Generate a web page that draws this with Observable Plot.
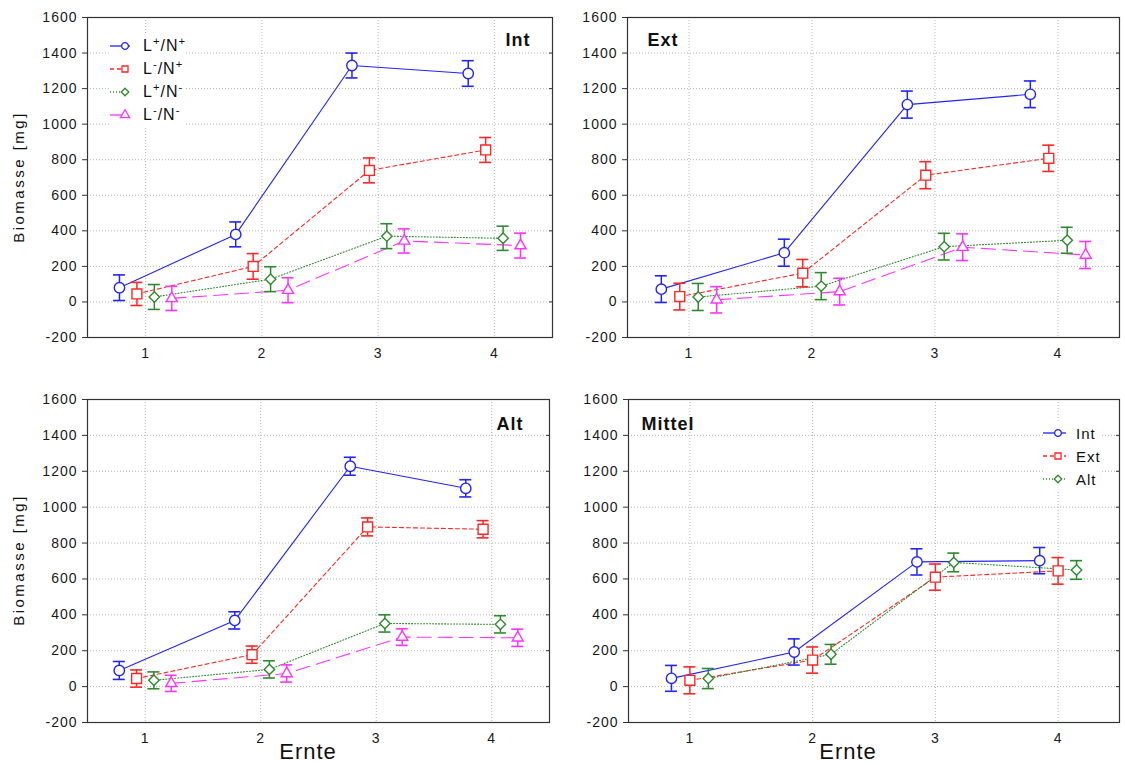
<!DOCTYPE html>
<html><head><meta charset="utf-8">
<script src="https://cdn.jsdelivr.net/npm/d3@7"></script>
<script src="https://cdn.jsdelivr.net/npm/@observablehq/plot@0.6"></script>
<style>
body{margin:0;background:#fff;font-family:"Liberation Sans",Arial,sans-serif;}
#wrap{position:relative;width:1125px;height:765px;overflow:hidden;background:#fff;}
.panel{position:absolute;}
.panel text{letter-spacing:1px;}
.ylab{position:absolute;transform:translate(-50%,-50%) rotate(-90deg);font-size:15px;letter-spacing:2.5px;white-space:nowrap;color:#111;}
.xlab{position:absolute;transform:translate(-50%,-50%);font-size:22px;letter-spacing:1px;color:#111;white-space:nowrap;}
.legend{position:absolute;background:#fff;color:#111;letter-spacing:1px;}
.legend .row{display:flex;align-items:center;height:23px;white-space:nowrap;}
.legend sup{font-size:70%;vertical-align:0.5em;line-height:0;}
</style></head><body><div id="wrap"></div>
<script>
// ---------- data ----------
const ernte = [1, 2, 3, 4];
const yTicks = [-200, 0, 200, 400, 600, 800, 1000, 1200, 1400, 1600];
const treatments = ["L+/N+", "L-/N+", "L+/N-", "L-/N-"];
const sites = ["Int", "Ext", "Alt"];

// Int
const int_LpNp = [80, 380, 1330, 1285];
const int_LpNp_err = [72, 70, 70, 72];
const int_LmNp = [45, 200, 740, 855];
const int_LmNp_err = [65, 72, 70, 70];
const int_LpNm = [28, 128, 370, 358];
const int_LpNm_err = [70, 70, 70, 68];
const int_LmNm = [20, 66, 343, 317];
const int_LmNm_err = [68, 70, 68, 70];
// Ext
const ext_LpNp = [72, 277, 1110, 1168];
const ext_LpNp_err = [75, 76, 76, 75];
const ext_LmNp = [30, 162, 713, 808];
const ext_LmNp_err = [75, 77, 76, 74];
const ext_LpNm = [28, 89, 311, 347];
const ext_LpNm_err = [76, 76, 75, 73];
const ext_LmNm = [12, 58, 308, 264];
const ext_LmNm_err = [74, 75, 75, 76];
// Alt
const alt_LpNp = [90, 369, 1228, 1105];
const alt_LpNp_err = [50, 48, 50, 48];
const alt_LmNp = [45, 178, 890, 877];
const alt_LmNp_err = [48, 48, 50, 48];
const alt_LpNm = [35, 96, 352, 347];
const alt_LpNm_err = [47, 48, 48, 48];
const alt_LmNm = [18, 73, 276, 272];
const alt_LmNm_err = [45, 48, 46, 48];
// Mittel
const mit_Int = [46, 193, 695, 702];
const mit_Int_err = [72, 73, 73, 73];
const mit_Ext = [35, 148, 610, 645];
const mit_Ext_err = [75, 73, 73, 74];
const mit_Alt = [45, 180, 692, 650];
const mit_Alt_err = [56, 55, 52, 52];

// ---------- styles ----------
const colors = ["#2323ff", "#ff2626", "#2f8a2f", "#ff33ff"];
const dashes = [null, "4,3", "1,2", "14,7"];
const symbols = ["circle", "square", "diamond2", "triangle"];
const radii = [5.2, 5.6, 4.7, 4.1];
const offsets4 = [-0.225, -0.075, 0.075, 0.225];
const offsets3 = [-0.15, 0, 0.15];
const FONT = '"Liberation Sans", Arial, sans-serif';

function makePanel(cfg) {
  const pw = cfg.width - cfg.mL - cfg.mR;
  const cap = 6 / (pw / 4);
  const grid = {stroke: "#b5b5b5", strokeOpacity: 1, strokeDasharray: "1,2"};
  const marks = [
    Plot.gridY(yTicks, grid),
    Plot.gridX(ernte, grid),
    Plot.axisY(yTicks, {tickSize: 5, tickPadding: 5, tickFormat: d => String(d), fontSize: 14, label: null, stroke: "#333"}),
    Plot.axisY(yTicks, {anchor: "right", tickSize: -4, tickFormat: () => "", label: null, stroke: "#333"}),
    Plot.axisX(ernte, {tickSize: 0, tickPadding: 11, fontSize: 14, label: null, tickFormat: d => String(d)})
  ];
  cfg.series.forEach((s, i) => {
    const rows = ernte.map((e, j) => ({x: e + cfg.offsets[i], m: s.means[j], e: s.errs[j]}));
    marks.push(Plot.line(rows, {x: "x", y: "m", stroke: colors[i], strokeWidth: 1.1, strokeDasharray: dashes[i]}));
  });
  cfg.series.forEach((s, i) => {
    const rows = ernte.map((e, j) => ({x: e + cfg.offsets[i], m: s.means[j], e: s.errs[j]}));
    marks.push(Plot.ruleX(rows, {x: "x", y1: d => d.m - d.e, y2: d => d.m + d.e, stroke: colors[i], strokeWidth: 1.5}));
    marks.push(Plot.ruleY(rows, {y: d => d.m + d.e, x1: d => d.x - cap, x2: d => d.x + cap, stroke: colors[i], strokeWidth: 1.6}));
    marks.push(Plot.ruleY(rows, {y: d => d.m - d.e, x1: d => d.x - cap, x2: d => d.x + cap, stroke: colors[i], strokeWidth: 1.6}));
    marks.push(Plot.dot(rows, {x: "x", y: "m", symbol: symbols[i], r: radii[i], stroke: colors[i], fill: "white", strokeWidth: 1.4}));
  });
  marks.push(Plot.frame({stroke: "#333", strokeWidth: 1.2}));
  marks.push(Plot.text([cfg.title], {
    text: d => d, frameAnchor: cfg.titleAnchor, textAnchor: cfg.titleAnchor === "top-right" ? "end" : "start",
    lineAnchor: "middle", dx: cfg.titleDx, dy: cfg.titleDy, fontSize: 18, fontWeight: "bold", fill: "#111"
  }));
  const svg = Plot.plot({
    width: cfg.width, height: cfg.height,
    marginLeft: cfg.mL, marginRight: cfg.mR, marginTop: cfg.mT, marginBottom: cfg.mB,
    x: {domain: [0.5, 4.5]},
    y: {domain: [-200, 1600]},
    style: {fontFamily: FONT, color: "#1a1a1a", background: "transparent", overflow: "visible"},
    marks
  });
  svg.classList.add("panel");
  svg.style.left = cfg.left + "px";
  svg.style.top = cfg.top + "px";
  document.getElementById("wrap").appendChild(svg);
}

const intSeries = [
  {means: int_LpNp, errs: int_LpNp_err}, {means: int_LmNp, errs: int_LmNp_err},
  {means: int_LpNm, errs: int_LpNm_err}, {means: int_LmNm, errs: int_LmNm_err}];
const extSeries = [
  {means: ext_LpNp, errs: ext_LpNp_err}, {means: ext_LmNp, errs: ext_LmNp_err},
  {means: ext_LpNm, errs: ext_LpNm_err}, {means: ext_LmNm, errs: ext_LmNm_err}];
const altSeries = [
  {means: alt_LpNp, errs: alt_LpNp_err}, {means: alt_LmNp, errs: alt_LmNp_err},
  {means: alt_LpNm, errs: alt_LpNm_err}, {means: alt_LmNm, errs: alt_LmNm_err}];
const mitSeries = [
  {means: mit_Int, errs: mit_Int_err}, {means: mit_Ext, errs: mit_Ext_err},
  {means: mit_Alt, errs: mit_Alt_err}];

makePanel({left: 0, top: 0, width: 560, height: 370, mL: 87, mR: 8, mT: 17, mB: 33,
  series: intSeries, offsets: offsets4, title: "Int", titleAnchor: "top-right", titleDx: -22, titleDy: 23});
makePanel({left: 560, top: 0, width: 565, height: 370, mL: 67, mR: 6, mT: 17, mB: 33,
  series: extSeries, offsets: offsets4, title: "Ext", titleAnchor: "top-left", titleDx: 20, titleDy: 23});
makePanel({left: 0, top: 382, width: 560, height: 383, mL: 87, mR: 11, mT: 17, mB: 43,
  series: altSeries, offsets: offsets4, title: "Alt", titleAnchor: "top-right", titleDx: -26, titleDy: 25});
makePanel({left: 560, top: 382, width: 565, height: 383, mL: 68, mR: 6, mT: 17, mB: 43,
  series: mitSeries, offsets: offsets3, title: "Mittel", titleAnchor: "top-left", titleDx: 13, titleDy: 25});

// ---------- axis titles ----------
const wrap = document.getElementById("wrap");
function addLabel(cls, text, x, y) {
  const d = document.createElement("div");
  d.className = cls; d.textContent = text;
  d.style.left = x + "px"; d.style.top = y + "px";
  wrap.appendChild(d);
}
addLabel("ylab", "Biomasse [mg]", 18, 177);
addLabel("ylab", "Biomasse [mg]", 18, 560);
addLabel("xlab", "Ernte", 308, 752);
addLabel("xlab", "Ernte", 848, 752);

// ---------- legends ----------
function swatch(i, w, mx) {
  const s = d3.create("svg").attr("width", w).attr("height", 14).style("overflow", "visible");
  s.append("line").attr("x1", 0).attr("x2", w - 2).attr("y1", 7).attr("y2", 7)
    .attr("stroke", colors[i]).attr("stroke-width", 1.3).attr("stroke-dasharray", dashes[i]);
  const sym = {circle: d3.symbolCircle, square: d3.symbolSquare, diamond2: d3.symbolDiamond2, triangle: d3.symbolTriangle}[symbols[i]];
  s.append("path").attr("d", d3.symbol(sym, Math.PI * 3.4 * 3.4)()).attr("transform", `translate(${mx},7)`)
    .attr("fill", "white").attr("stroke", colors[i]).attr("stroke-width", 1.3);
  return s.node();
}
function legendLabel(t) {
  const span = document.createElement("span");
  span.innerHTML = t.replace(/([LN])([+-])/g, "$1<sup>$2</sup>");
  return span;
}
function addLegend(labels, x, y, w, mx, gap, fs, html) {
  const lg = document.createElement("div");
  lg.className = "legend";
  lg.style.left = x + "px"; lg.style.top = y + "px"; lg.style.fontSize = fs + "px";
  labels.forEach((t, i) => {
    const row = document.createElement("div"); row.className = "row";
    row.appendChild(swatch(i, w, mx));
    const lab = html ? legendLabel(t) : document.createTextNode(t);
    const sp = document.createElement("span"); sp.style.marginLeft = gap + "px";
    sp.appendChild(lab); row.appendChild(sp);
    lg.appendChild(row);
  });
  wrap.appendChild(lg);
}
addLegend(treatments, 110, 34, 22, 15, 11, 16, true);
addLegend(sites, 1043, 421.5, 25, 15, 8, 15, false);
</script>
</body></html>
